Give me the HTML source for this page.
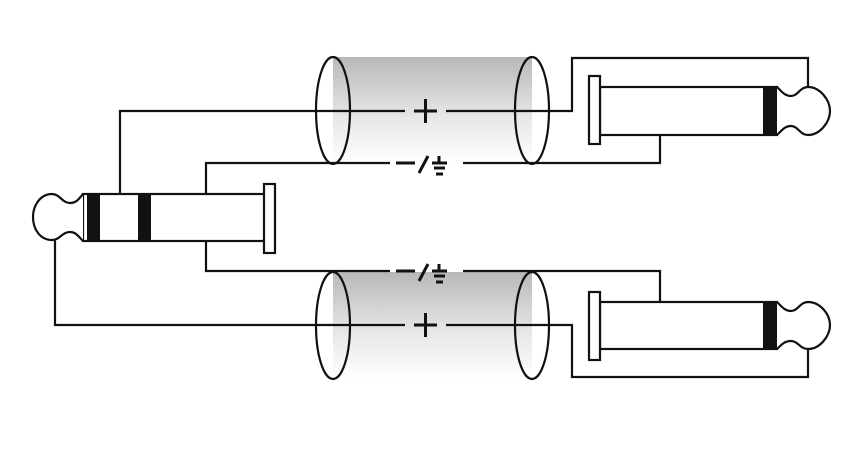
<!DOCTYPE html>
<html><head><style>html,body{margin:0;padding:0;background:#fff;}svg{display:block;}</style></head>
<body>
<svg width="864" height="452" viewBox="0 0 864 452" xmlns="http://www.w3.org/2000/svg">
<defs>
<linearGradient id="g" x1="0" y1="0" x2="0" y2="1">
<stop offset="0" stop-color="#b8b8b8"/><stop offset="0.55" stop-color="#e6e6e6"/><stop offset="1" stop-color="#ffffff"/>
</linearGradient>
</defs>
<rect x="333" y="57" width="199" height="107" fill="url(#g)"/>
<rect x="333" y="272" width="199" height="107" fill="url(#g)"/>
<g fill="none" stroke="#111" stroke-width="2.2">
<polyline points="120,194 120,111 405,111"/>
<polyline points="446,111 572,111 572,58 808,58 808,88"/>
<polyline points="206,194 206,163 390,163"/>
<polyline points="463,163 660,163 660,135"/>
<polyline points="206,241 206,271 390,271"/>
<polyline points="463,271 660,271 660,302"/>
<polyline points="55,238 55,325 405,325"/>
<polyline points="446,325 572,325 572,377 808,377 808,348"/>
</g>
<g fill="none" stroke="#111" stroke-width="2.2">
<ellipse cx="333" cy="110.5" rx="17" ry="53.5"/>
<ellipse cx="532" cy="110.5" rx="17" ry="53.5"/>
<ellipse cx="333" cy="325.5" rx="17" ry="53.5"/>
<ellipse cx="532" cy="325.5" rx="17" ry="53.5"/>
</g>
<g stroke="#111" stroke-width="3" fill="none">
<path d="M414 111h23M425.5 99v24"/>
<path d="M414 325h23M425.5 313v24"/>
<path d="M396 163h19M419 173l9-17M432 163h15M439 156v7M434 168h11M436 174h7"/>
<path d="M396 271h19M419 281l9-17M432 271h15M439 264v7M434 276h11M436 282h7"/>
</g>
<g stroke="#111" stroke-width="2.2" fill="#fff">
<rect x="83" y="194" width="182" height="47"/>
<rect x="264" y="184" width="11" height="69"/>
<path d="M83 194 C78 200 76 203 70 203 C62 203 60 194 52 194 C40 194 33 206 33 217 C33 229 40 240 52 240 C60 240 62 232 70 232 C76 232 78 236 83 241"/>
</g>
<rect x="87" y="195" width="13" height="45" fill="#111"/>
<rect x="138" y="195" width="13" height="45" fill="#111"/>
<g stroke="#111" stroke-width="2.2" fill="#fff">
<rect x="600" y="87" width="177" height="48"/>
<rect x="589" y="76" width="11" height="68"/>
<path d="M777 87 C782 92 785 96 791 96 C798 96 800 87 808 87 C820 87 830 100 830 111 C830 122 820 135 808 135 C800 135 798 126 791 126 C785 126 782 130 777 135"/>
</g>
<rect x="763" y="88" width="14" height="46" fill="#111"/>
<g stroke="#111" stroke-width="2.2" fill="#fff">
<rect x="600" y="302" width="177" height="47"/>
<rect x="589" y="292" width="11" height="68"/>
<path d="M777 302 C782 307 785 311 791 311 C798 311 800 302 808 302 C820 302 830 314 830 325 C830 336 820 349 808 349 C800 349 798 341 791 341 C785 341 782 344 777 349"/>
</g>
<rect x="763" y="303" width="14" height="45" fill="#111"/>
</svg>
</body></html>
